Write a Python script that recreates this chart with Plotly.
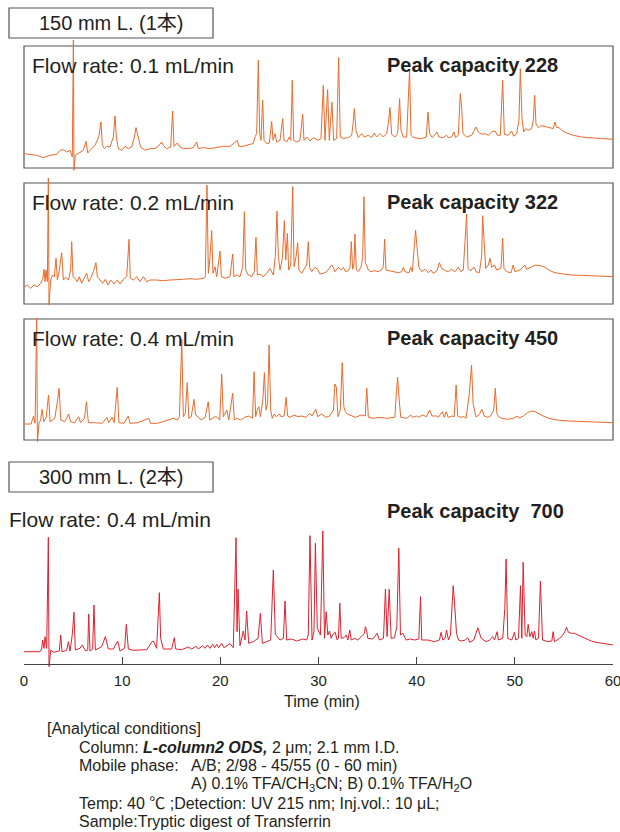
import plotly.graph_objects as go

# ---------------- data (time in min, signal in arbitrary units) ----------------
t_01 = [0.00,0.61,1.29,1.97,2.65,3.33,3.67,4.01,4.35,4.69,4.92,5.03,5.09,5.23,5.53,6.04,6.32,6.49,6.89,7.23,7.47,7.64,7.84,7.98,8.18,8.42,8.76,9.10,9.27,9.41,9.61,9.95,10.29,10.63,10.97,11.24,11.41,11.65,11.88,12.33,12.84,13.34,13.68,14.02,14.26,14.53,14.94,15.14,15.28,15.62,15.89,16.23,16.74,17.25,17.59,17.76,18.27,18.95,19.63,20.31,20.99,21.73,21.87,22.34,23.02,23.36,23.53,23.70,23.87,24.01,24.14,24.31,24.45,24.72,24.99,25.23,25.37,25.57,25.74,26.08,26.35,26.49,26.76,27.03,27.17,27.33,27.47,27.78,28.11,28.39,28.52,28.80,29.13,29.47,
        29.98,30.25,30.49,30.66,30.93,31.10,31.37,31.54,31.85,32.05,32.22,32.53,33.04,33.38,33.54,33.65,33.82,34.05,34.39,34.67,35.07,35.41,35.68,35.92,36.26,36.60,36.94,37.11,37.28,37.45,37.79,38.06,38.26,38.40,38.64,38.98,39.28,39.42,39.66,40.17,40.51,40.98,41.15,41.32,41.59,42.07,42.27,42.71,43.05,43.22,43.56,43.80,43.97,44.24,44.44,44.58,44.72,45.09,45.60,46.04,46.28,46.62,46.96,47.30,47.64,47.98,48.25,48.52,48.76,48.93,49.33,49.67,49.88,50.18,50.42,50.56,50.73,50.90,51.10,51.37,51.71,51.88,52.02,52.15,52.39,52.73,53.07,53.41,53.92,54.09,54.26,54.50,54.77,55.28,55.96,56.81,57.82,58.84,60.00]
s_01 = [14.4,13.7,12.7,10.4,12.7,13.7,17.7,18.4,16.0,17.7,11.0,128.0,-2.3,12.7,14.4,17.7,26.7,15.0,19.4,22.7,27.7,32.7,46.0,22.7,19.4,21.7,21.0,31.0,52.0,31.0,19.4,17.7,21.7,19.4,21.0,31.0,40.4,29.4,21.0,17.7,19.4,19.4,21.7,26.0,21.7,19.4,21.0,57.0,21.7,25.0,21.0,19.4,19.4,20.4,26.0,19.4,20.4,19.4,20.4,21.7,21.7,27.7,21.7,21.7,23.7,24.4,31.0,34.4,107.7,34.4,27.7,67.7,27.7,24.4,25.0,46.7,27.7,34.4,26.0,27.7,49.4,27.7,26.0,31.0,27.7,87.7,27.7,26.0,27.7,53.7,27.7,31.0,27.0,30.4,
        27.7,29.4,82.7,27.7,78.4,27.7,65.7,27.7,29.4,110.4,31.0,29.4,30.4,32.7,46.0,59.4,37.7,30.4,34.4,31.0,32.7,30.4,35.0,31.0,34.4,31.0,34.4,44.4,60.4,33.7,31.0,34.4,69.4,37.7,31.0,31.0,98.4,32.7,30.4,29.4,29.4,31.0,56.0,34.4,30.4,36.0,31.0,30.4,32.7,30.4,31.0,36.0,30.4,32.7,74.4,61.0,34.4,31.0,32.7,41.0,36.0,33.7,34.4,32.7,36.0,37.0,32.7,32.7,87.7,33.7,32.7,37.0,31.7,34.4,47.7,99.4,49.4,36.0,39.4,37.7,39.4,47.7,72.7,44.4,40.4,42.4,41.7,40.4,39.4,46.0,40.4,40.4,37.7,35.0,32.7,31.0,30.0,29.4,28.7]

t_02 = [0.00,0.34,0.68,1.02,1.36,1.70,1.90,2.04,2.14,2.24,2.38,2.48,2.55,2.72,2.92,3.09,3.26,3.40,3.60,3.84,4.01,4.24,4.52,4.75,4.86,4.99,5.20,5.43,5.64,5.87,6.11,6.38,6.59,6.79,7.06,7.33,7.47,7.74,8.01,8.29,8.56,8.83,9.17,9.51,9.78,10.12,10.46,10.70,10.83,11.14,11.48,11.82,12.16,12.50,12.84,13.51,14.19,14.87,15.55,16.23,16.91,17.59,18.27,18.47,18.64,18.78,18.95,19.12,19.25,19.46,19.63,19.97,20.10,20.48,20.98,21.26,21.39,21.66,22.00,22.28,22.45,22.58,22.85,23.19,23.46,23.63,23.77,24.04,24.38,24.72,25.06,25.40,25.60,25.77,25.91,26.08,26.32,26.52,26.66,26.83,26.96,27.17,27.37,27.51,27.71,27.88,28.01,28.29,28.63,28.80,28.96,29.10,29.30,29.64,
        29.91,30.15,30.49,30.83,31.17,31.34,31.51,31.68,32.02,32.29,32.53,32.76,33.04,33.21,33.34,33.48,33.61,33.71,33.85,34.05,34.33,34.50,34.63,34.77,34.90,35.07,35.34,35.68,36.09,36.43,36.60,36.74,36.87,37.28,37.62,38.13,38.47,38.64,38.81,39.22,39.39,39.56,39.76,39.89,40.03,40.23,40.51,40.85,41.19,41.46,41.69,42.07,42.31,42.54,42.95,43.22,43.56,43.90,44.24,44.51,44.75,44.95,45.09,45.23,45.43,45.87,46.04,46.38,46.62,46.72,46.86,47.03,47.30,47.47,47.64,47.91,48.15,48.59,48.76,48.89,49.16,49.61,49.84,50.01,50.52,51.03,51.20,51.71,52.12,52.73,53.07,53.58,54.09,54.94,55.79,56.81,57.82,58.84,60.00]
s_02 = [16.7,19.0,15.7,19.0,17.3,20.7,24.7,34.7,22.3,34.0,22.3,126.0,-1.0,24.0,29.0,27.3,45.7,24.0,34.0,51.3,24.0,26.7,24.0,34.0,62.3,27.3,25.7,22.3,27.3,20.7,25.7,30.7,22.3,25.7,32.3,41.3,27.3,24.0,20.7,24.7,19.0,24.0,20.0,24.0,20.0,24.7,27.3,64.7,25.7,24.0,27.3,22.3,27.3,22.3,24.0,24.0,23.3,24.0,24.0,24.7,25.3,24.7,25.7,27.3,119.0,30.7,47.3,73.3,30.7,37.3,27.3,53.0,27.3,25.7,27.3,50.0,27.3,29.0,27.3,37.3,92.3,34.0,29.0,27.3,32.3,66.7,29.0,30.0,27.3,30.7,35.7,29.0,47.3,93.0,47.3,34.0,45.7,83.3,44.0,70.7,34.0,39.0,117.3,37.3,47.3,61.3,34.0,30.7,36.7,39.0,62.3,36.7,32.3,36.7,
        34.7,30.0,30.7,32.3,36.7,39.0,36.7,32.3,36.7,34.0,36.7,32.3,33.3,36.7,62.3,34.7,39.0,70.0,34.0,32.3,36.7,46.7,107.3,40.7,39.0,34.0,32.3,33.3,32.3,34.0,37.3,65.0,34.0,33.3,32.3,31.3,32.3,36.7,32.3,31.3,36.7,32.3,57.3,74.0,57.3,36.7,32.3,34.7,31.3,34.0,30.7,33.3,41.3,35.7,33.3,32.3,34.7,32.3,36.7,32.3,34.0,64.0,90.0,35.7,33.3,36.7,32.3,31.3,47.3,88.3,57.3,35.7,39.0,45.7,36.7,39.0,34.0,35.7,65.7,35.7,32.3,31.3,39.0,32.3,34.0,39.0,34.7,36.7,39.0,38.0,36.7,33.3,31.3,30.0,29.0,28.7,28.3,28.0,27.3]

t_04 = [0.00,0.72,0.97,1.13,1.29,1.37,1.53,1.69,1.85,2.01,2.26,2.50,2.66,2.94,3.14,3.46,3.58,3.75,4.15,4.55,4.75,5.16,5.56,5.76,6.16,6.36,6.56,7.17,7.97,8.46,8.62,8.98,9.18,9.50,9.67,10.19,10.63,10.79,11.60,12.73,12.89,13.61,14.62,15.22,15.63,15.83,16.07,16.23,16.43,16.63,16.79,17.04,17.32,17.48,17.72,18.04,18.45,18.77,18.93,19.45,19.73,19.94,20.14,20.30,20.66,20.86,21.26,21.43,21.67,22.07,22.47,22.88,23.28,23.44,23.60,23.76,23.92,24.08,24.33,24.49,24.65,24.81,24.97,25.13,25.29,25.49,25.69,26.02,26.18,26.50,26.70,26.86,27.10,27.51,27.91,28.31,28.72,29.12,29.32,29.72,29.92,30.33,30.73,31.13,31.53,31.66,31.82,31.98,32.22,32.42,32.58,32.74,32.94,33.35,33.75,34.35,34.76,34.92,35.08,35.56,36.17,36.97,37.78,37.94,38.06,38.22,38.38,38.99,39.39,39.59,39.99,40.19,40.60,41.00,41.32,41.56,42.01,42.21,42.61,42.81,43.01,43.21,43.62,43.82,44.02,44.18,44.42,44.82,45.03,45.35,45.59,45.75,46.03,46.23,46.44,46.64,46.88,47.24,47.52,47.85,48.01,48.17,48.33,48.65,49.25,49.86,50.26,50.46,50.87,51.27,51.67,52.07,52.48,52.88,53.48,54.29,55.50,57.11,58.72,60.00]
s_04 = [16.0,16.0,24.0,16.7,122.0,-1.7,16.7,20.0,30.7,18.3,22.7,45.0,18.3,20.0,21.7,42.7,51.7,20.0,18.3,26.0,18.3,17.3,23.3,17.3,21.7,38.3,17.3,17.3,16.7,22.7,17.3,22.7,17.3,52.7,17.3,16.7,24.0,16.7,17.3,21.7,16.7,16.7,20.0,21.7,20.0,23.3,100.7,23.3,26.7,57.3,21.7,23.3,40.7,25.0,23.3,20.0,22.7,38.3,20.0,23.3,22.7,20.0,66.0,23.3,30.0,20.0,46.7,20.0,21.7,20.0,22.7,24.0,21.7,68.3,23.3,30.0,33.3,23.3,40.0,67.3,30.0,36.7,95.0,30.0,21.7,26.0,23.3,26.0,23.3,24.0,42.7,24.0,22.7,25.0,23.3,24.0,22.7,26.7,24.0,30.7,23.3,26.0,22.7,24.0,30.0,56.0,52.7,23.3,30.0,77.3,33.3,28.3,26.0,24.0,22.7,25.0,24.0,51.7,22.7,21.7,22.7,21.7,22.7,48.3,62.7,40.0,22.7,21.7,25.0,22.7,24.0,22.7,25.0,23.3,30.0,24.0,24.0,22.7,28.3,22.7,28.3,22.7,24.0,23.3,55.0,24.0,22.7,23.3,21.7,45.0,75.0,36.7,23.3,24.0,26.7,30.7,24.0,22.7,24.0,30.0,51.7,26.7,23.3,21.7,20.7,21.7,24.0,21.7,24.0,27.3,29.0,28.3,26.0,24.0,21.7,20.0,19.0,18.3,17.7,17.3]

t_300 = [0.00,1.63,1.80,1.90,2.04,2.14,2.31,2.48,2.55,2.72,2.99,3.60,3.74,3.87,4.35,4.52,4.69,4.92,5.09,5.23,5.70,5.94,6.28,6.49,6.59,6.72,6.99,7.13,7.27,7.91,8.29,8.59,9.10,9.54,9.78,10.25,10.42,10.63,11.14,11.82,12.50,13.04,13.17,13.51,13.79,13.92,14.19,15.04,15.31,15.45,16.06,16.74,17.08,17.52,17.76,18.20,18.44,18.68,18.95,19.22,19.42,19.63,19.83,20.14,20.37,20.99,21.32,21.60,21.70,21.80,22.00,22.34,22.51,22.68,22.89,23.36,23.84,24.08,24.28,24.72,25.13,25.40,25.60,26.08,26.42,26.59,26.76,27.27,27.78,28.39,28.79,28.96,29.13,29.34,29.54,29.68,29.88,
         30.20,30.44,30.61,30.78,30.95,31.12,31.29,31.46,31.70,31.90,32.03,32.17,32.31,32.58,32.82,32.99,33.19,33.33,33.66,34.00,34.34,34.51,34.68,34.78,34.92,35.02,35.53,35.97,36.21,36.62,36.82,36.99,37.20,37.40,37.74,37.98,38.18,38.35,38.59,38.93,39.34,39.78,40.22,40.39,40.52,41.14,41.81,42.32,42.49,42.66,42.90,43.04,43.24,43.44,43.58,43.72,43.85,44.06,44.26,44.53,44.94,45.21,45.41,45.82,46.23,46.57,47.08,47.42,47.76,47.93,48.20,48.33,48.77,48.98,49.11,49.28,49.69,49.96,50.10,50.37,50.58,50.71,50.85,51.05,51.22,51.36,51.53,51.73,51.87,52.00,52.14,52.41,52.61,52.82,53.36,53.77,53.90,54.04,54.55,54.89,55.13,55.26,55.46,55.74,56.07,56.41,56.75,57.26,57.77,58.28,58.79,59.47,60.00]
s_300 = [12.3,12.3,15.0,24.0,15.7,27.3,15.7,126.7,-2.7,14.0,11.7,13.0,29.0,12.3,13.7,22.3,13.0,29.7,51.7,14.0,15.7,19.0,13.0,14.0,50.0,13.0,15.0,59.0,14.0,17.3,27.3,15.0,15.0,23.0,13.0,15.7,39.7,15.0,13.7,14.3,14.3,22.3,23.0,15.7,71.3,25.7,15.0,15.0,26.3,15.0,14.3,17.0,15.0,17.7,15.0,18.3,15.7,19.0,15.7,19.7,16.3,19.7,16.3,20.7,16.3,20.3,16.3,126.3,32.3,75.0,18.3,33.0,24.0,53.0,20.7,22.3,25.7,50.7,20.7,22.3,24.0,94.0,29.7,24.0,25.7,63.0,24.0,25.0,23.0,25.0,24.0,29.0,128.3,24.0,32.3,120.7,35.7,
         29.0,133.0,25.7,52.3,29.0,33.0,25.7,29.7,31.7,24.0,25.7,60.7,25.7,26.3,29.0,24.0,34.0,24.0,25.7,24.0,27.3,29.0,30.7,37.3,32.3,25.7,25.0,30.7,24.0,25.7,75.0,27.3,74.7,25.7,26.3,37.3,115.7,29.0,30.7,24.0,25.0,24.0,25.0,67.3,24.0,24.0,22.3,24.0,31.7,24.0,25.7,34.0,24.0,29.0,57.3,78.3,62.3,30.7,24.0,23.0,24.0,26.3,21.7,24.0,36.3,25.7,22.3,24.0,27.3,24.0,32.3,24.0,25.7,55.7,105.0,25.7,24.0,31.7,24.0,25.7,78.3,25.7,101.7,29.0,27.3,39.7,27.3,32.3,25.7,33.0,24.0,25.7,83.0,24.0,22.3,23.0,32.3,22.3,25.7,29.0,33.0,36.7,31.7,30.7,30.7,29.0,27.3,25.0,23.0,21.7,20.7,20.0,19.0]

tick_vals = [0, 10, 20, 30, 40, 50, 60]
tick_text = ["0", "10", "20", "30", "40", "50", "60"]

panel_titles = ["Flow rate: 0.1 mL/min", "Flow rate: 0.2 mL/min", "Flow rate: 0.4 mL/min"]
panel_capacity = ["Peak capacity 228", "Peak capacity 322", "Peak capacity 450"]

# ---------------- layout helpers ----------------
W, H = 620, 832
FONT = "Liberation Sans, Arial, Noto Sans CJK JP, sans-serif"
TXT = "#231F20"
ORANGE = "#EB6A2C"
RED = "#E0202E"
BOX = "#555555"
XL, XR = 24, 613
DX = -2  # compensation for annotation padding on left-anchored texts


def py(p):
    return 1 - p / H


def px(p):
    return p / W


fig = go.Figure()

boxes = [(46, 168), (183, 304), (319, 440)]
series = [(t_01, s_01), (t_02, s_02), (t_04, s_04)]
layout = {}
shapes = []
annotations = []
EXT_LO, EXT_HI = 6, 130
for i, ((top, bot), (tt, ss)) in enumerate(zip(boxes, series)):
    n = i + 1
    xa = "x" if n == 1 else f"x{n}"
    ya = "y" if n == 1 else f"y{n}"
    fig.add_trace(go.Scatter(x=tt, y=ss, mode="lines", line=dict(color=ORANGE, width=1),
                             xaxis=xa, yaxis=ya, hoverinfo="skip", showlegend=False))
    layout["xaxis" if n == 1 else f"xaxis{n}"] = dict(domain=[px(XL), px(XR)], range=[0, 60],
                                                       visible=False, anchor=ya, fixedrange=True,
                                                       automargin=False)
    layout["yaxis" if n == 1 else f"yaxis{n}"] = dict(domain=[py(bot + EXT_LO), py(bot - EXT_HI)],
                                                       range=[-EXT_LO, EXT_HI], visible=False,
                                                       anchor=xa, fixedrange=True, automargin=False)
    shapes.append(dict(type="rect", xref="paper", yref="paper", x0=px(XL), x1=px(XR),
                       y0=py(bot), y1=py(top), line=dict(color=BOX, width=1.2), layer="below"))
    cy = top + 19
    annotations.append(dict(text=panel_titles[i], x=px(32 + DX), y=py(cy), xref="paper", yref="paper",
                            xanchor="left", yanchor="middle", showarrow=False,
                            font=dict(family=FONT, size=21, color=TXT)))
    annotations.append(dict(text="<b>" + panel_capacity[i] + "</b>", x=px(387 + DX), y=py(cy), xref="paper",
                            yref="paper", xanchor="left", yanchor="middle", showarrow=False,
                            font=dict(family=FONT, size=20, color=TXT)))

# bottom chromatogram
AX_Y = 664
LO, HI = 8, 140
fig.add_trace(go.Scatter(x=t_300, y=s_300, mode="lines", line=dict(color=RED, width=1),
                         xaxis="x4", yaxis="y4", hoverinfo="skip", showlegend=False))
layout["xaxis4"] = dict(domain=[px(XL), px(XR)], range=[0, 60], anchor="free", position=py(AX_Y),
                        showline=True, linecolor="#444", linewidth=1.2, ticks="inside", ticklen=7,
                        tickcolor="#444", tickwidth=1.2, tickvals=tick_vals, ticktext=tick_text,
                        showgrid=False, zeroline=False, ticklabelstandoff=3,
                        ticklabeloverflow="allow", automargin=False,
                        tickfont=dict(family=FONT, size=15, color=TXT), fixedrange=True)
layout["yaxis4"] = dict(domain=[py(AX_Y + LO), py(AX_Y - HI)], range=[-LO, HI], visible=False,
                        anchor="x4", fixedrange=True, automargin=False)

# label boxes
for (y0, y1, label) in [(8, 38, "150 mm L. (1本)"), (462, 492, "300 mm L. (2本)")]:
    shapes.append(dict(type="rect", xref="paper", yref="paper", x0=px(9), x1=px(213),
                       y0=py(y1), y1=py(y0), line=dict(color=BOX, width=1.2)))
    annotations.append(dict(text=label, x=px(111), y=py((y0 + y1) / 2), xref="paper", yref="paper",
                            xanchor="center", yanchor="middle", showarrow=False,
                            font=dict(family=FONT, size=20, color=TXT)))

annotations.append(dict(text="Flow rate: 0.4 mL/min", x=px(9 + DX), y=py(519), xref="paper", yref="paper",
                        xanchor="left", yanchor="middle", showarrow=False,
                        font=dict(family=FONT, size=21, color=TXT)))
annotations.append(dict(text="<b>Peak capacity  700</b>", x=px(387 + DX), y=py(511), xref="paper", yref="paper",
                        xanchor="left", yanchor="middle", showarrow=False,
                        font=dict(family=FONT, size=20, color=TXT)))
annotations.append(dict(text="Time (min)", x=px(322), y=py(701), xref="paper", yref="paper",
                        xanchor="center", yanchor="middle", showarrow=False,
                        font=dict(family=FONT, size=16, color=TXT)))

cond_lines = [
    (47, 728, "[Analytical conditions]"),
    (79, 747, "Column: <b><i>L-column2 ODS,</i></b> 2 μm; 2.1 mm I.D."),
    (79, 765.5, "Mobile phase:"),
    (191, 765.5, "A/B; 2/98 - 45/55 (0 - 60 min)"),
    (191, 784, "A) 0.1% TFA/CH<sub>3</sub>CN; B) 0.1% TFA/H<sub>2</sub>O"),
    (79, 803, "Temp: 40 ℃ ;Detection: UV 215 nm; Inj.vol.: 10 μL;"),
    (79, 821.5, "Sample:Tryptic digest of Transferrin"),
]
for (x0, y0, txt) in cond_lines:
    annotations.append(dict(text=txt, x=px(x0 + DX), y=py(y0), xref="paper", yref="paper",
                            xanchor="left", yanchor="middle", showarrow=False,
                            font=dict(family=FONT, size=16, color=TXT)))

fig.update_layout(width=W, height=H, margin=dict(l=0, r=0, t=0, b=0, autoexpand=False),
                  paper_bgcolor="white", plot_bgcolor="rgba(0,0,0,0)",
                  shapes=shapes, annotations=annotations, showlegend=False, **layout)

fig.write_html("out.html", config={"displayModeBar": False})
